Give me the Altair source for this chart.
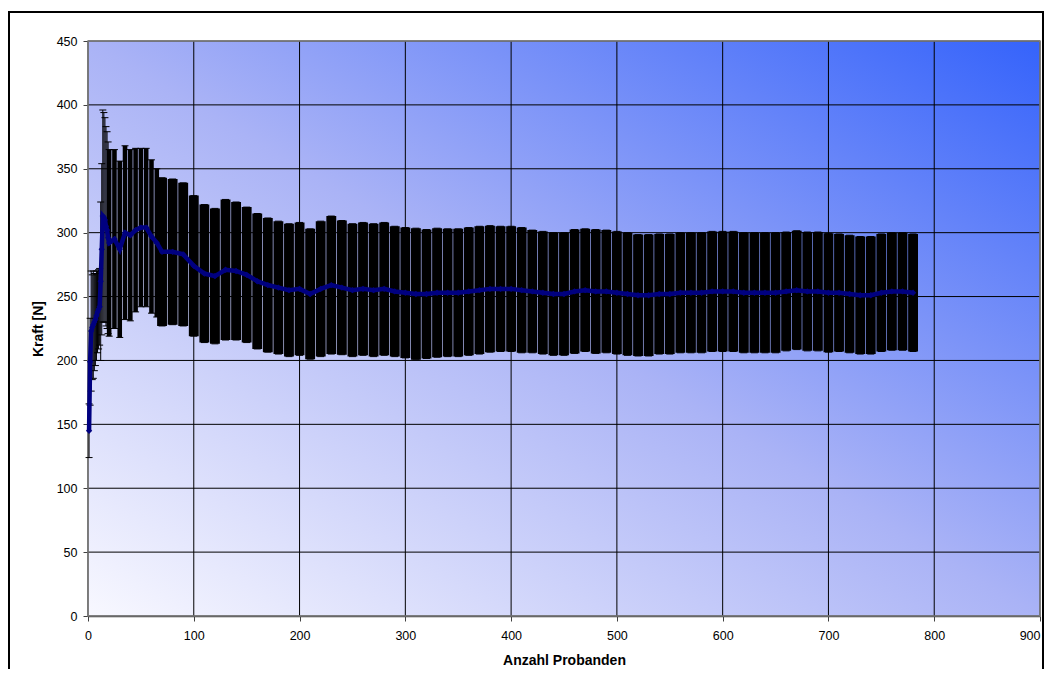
import altair as alt
import pandas as pd
import numpy as np

# Anzahl Probanden (N) at which the running mean / SD are read
n_vals = list(range(1, 21)) + [25, 30, 35, 40, 45, 50, 55, 60, 65] + list(range(70, 781, 10))

mean_vals = [145, 199, 223, 226, 228, 230, 232, 235, 238, 240,
             242, 262, 287, 313, 312, 310, 305, 302, 296, 292,
             295, 287, 300, 298, 302, 304, 304, 297, 292,
             285, 285, 283, 274,
             268, 266, 271, 270, 267, 262, 259, 257, 255, 256,
             252, 256, 259, 257, 255, 256, 255, 256, 254, 253,
             252, 252, 253, 253, 253, 254, 255, 256, 256, 256,
             255, 254, 253, 252, 252, 254, 255, 254, 254, 253,
             252, 251, 251, 252, 252, 253, 253, 253, 254, 254,
             254, 253, 253, 253, 253, 254, 255, 254, 254, 253,
             253, 252, 251, 251, 253, 254, 254, 253]

sd_vals = [21, 34, 47, 41, 42, 38, 36, 35, 32, 31,
           30, 62, 67, 83, 82, 80, 78, 77, 75, 73,
           70, 69, 68, 67, 64, 62, 62, 60, 58,
           58, 57, 56, 55,
           54, 53, 55, 54, 53, 53, 52.5, 52, 52, 52,
           51, 53, 54, 52.5, 52, 52, 52, 52, 51, 51,
           51.5, 50.5, 50.5, 50, 50, 50, 50, 49.5, 49, 49,
           49, 48, 48, 48, 48, 48.5, 48, 48.5, 48, 48,
           48, 47.5, 47.5, 47, 47, 47, 47, 47, 47, 47,
           47, 47, 47, 47, 47, 46.5, 46.5, 46.5, 46.5, 46.5,
           46, 46, 46, 46, 46, 46, 46, 46]

x_ticks = list(range(0, 901, 100))
y_ticks = list(range(0, 451, 50))

PLOT_W, PLOT_H = 952, 575
px_per_unit = PLOT_W / 900.0

arr = np.array(n_vals, dtype=float)
d_prev = np.diff(arr, prepend=arr[0] - (arr[1] - arr[0]))
d_next = np.diff(arr, append=arr[-1] + (arr[-1] - arr[-2]))
spacing = np.maximum(d_prev, d_next)
bar_w = np.maximum(1.0, spacing * px_per_unit - 0.7)

df = pd.DataFrame({
    "n": n_vals,
    "mean": mean_vals,
    "lo": np.array(mean_vals) - np.array(sd_vals),
    "hi": np.array(mean_vals) + np.array(sd_vals),
    "w": bar_w,
})
xg = pd.DataFrame({"n": x_ticks})
yg = pd.DataFrame({"mean": y_ticks})

FONT = "Liberation Sans"
one_row = alt.Data(values=[{"a": 1}])

XSCALE = alt.Scale(domain=[0, 900], nice=False)
YSCALE = alt.Scale(domain=[0, 450], nice=False)
XAXIS = alt.Axis(values=x_ticks, title="Anzahl Probanden", grid=False,
                 labelPadding=8, titlePadding=12,
                 labelAlign=alt.condition("datum.value >= 900", alt.value("right"), alt.value("center")))
YAXIS = alt.Axis(values=y_ticks, title="Kraft [N]", grid=False,
                 labelPadding=6, titlePadding=11)


def X(field):
    return alt.X(field, type="quantitative", scale=XSCALE, axis=XAXIS)


def Y(field):
    return alt.Y(field, type="quantitative", scale=YSCALE, axis=YAXIS)


gradient = alt.LinearGradient(
    gradient="linear",
    stops=[alt.GradientStop(color="#f8f8ff", offset=0),
           alt.GradientStop(color="#aab3f6", offset=0.5),
           alt.GradientStop(color="#3563fb", offset=1)],
    x1=0, y1=1, x2=1, y2=0,
)

background = alt.Chart(one_row).mark_rect(fill=gradient).encode(
    x=alt.value(0), x2=alt.value("width"), y=alt.value(0), y2=alt.value("height")
)

vgrid = alt.Chart(xg).mark_rule(color="black", strokeWidth=1).encode(
    x=X("n"), y=alt.value(0), y2=alt.value("height")
)
hgrid = alt.Chart(yg).mark_rule(color="black", strokeWidth=1).encode(
    y=Y("mean"), x=alt.value(0), x2=alt.value("width")
)

border = alt.Chart(one_row).mark_rect(fillOpacity=0, stroke="#808080", strokeWidth=1.5).encode(
    x=alt.value(0), x2=alt.value("width"), y=alt.value(0), y2=alt.value("height")
)

bars = alt.Chart(df).mark_rule(color="black", strokeCap="butt").encode(
    x=X("n"),
    y=Y("lo"),
    y2="hi:Q",
    strokeWidth=alt.StrokeWidth("w:Q", scale=None, legend=None),
)
caps_lo = alt.Chart(df).mark_tick(orient="horizontal", size=7, thickness=1, color="black", opacity=1).encode(
    x=X("n"), y=Y("lo")
)
caps_hi = alt.Chart(df).mark_tick(orient="horizontal", size=7, thickness=1, color="black", opacity=1).encode(
    x=X("n"), y=Y("hi")
)

line = alt.Chart(df).mark_line(color="#000080", strokeWidth=4.5).encode(x=X("n"), y=Y("mean"))
pts = alt.Chart(df).mark_point(shape="diamond", filled=True, size=40, color="#000080", opacity=1).encode(
    x=X("n"), y=Y("mean")
)

frame = alt.Chart(one_row).mark_rect(fillOpacity=0, stroke="black", strokeWidth=2).encode(
    x=alt.value(-79), x2=alt.value(955), y=alt.value(-29), y2=alt.value(720)
)

chart = alt.layer(
    background, vgrid, hgrid, border, bars, caps_lo, caps_hi, line, pts, frame
).properties(
    width=PLOT_W, height=PLOT_H,
    padding={"left": 80, "top": 33, "right": 5, "bottom": 53},
    autosize=alt.AutoSizeParams(type="none"),
).configure(
    background="white"
).configure_view(
    stroke=None
).configure_axis(
    labelFont=FONT, labelFontSize=12.5, labelColor="black",
    titleFont=FONT, titleFontSize=14, titleFontWeight="bold", titleColor="black",
    domainColor="#404040", domainWidth=1.5, tickColor="#404040", tickSize=5,
    labelFlush=False, labelOverlap=False, zindex=1,
)

chart.save("out.html", embed_options={"renderer": "svg", "actions": False})
